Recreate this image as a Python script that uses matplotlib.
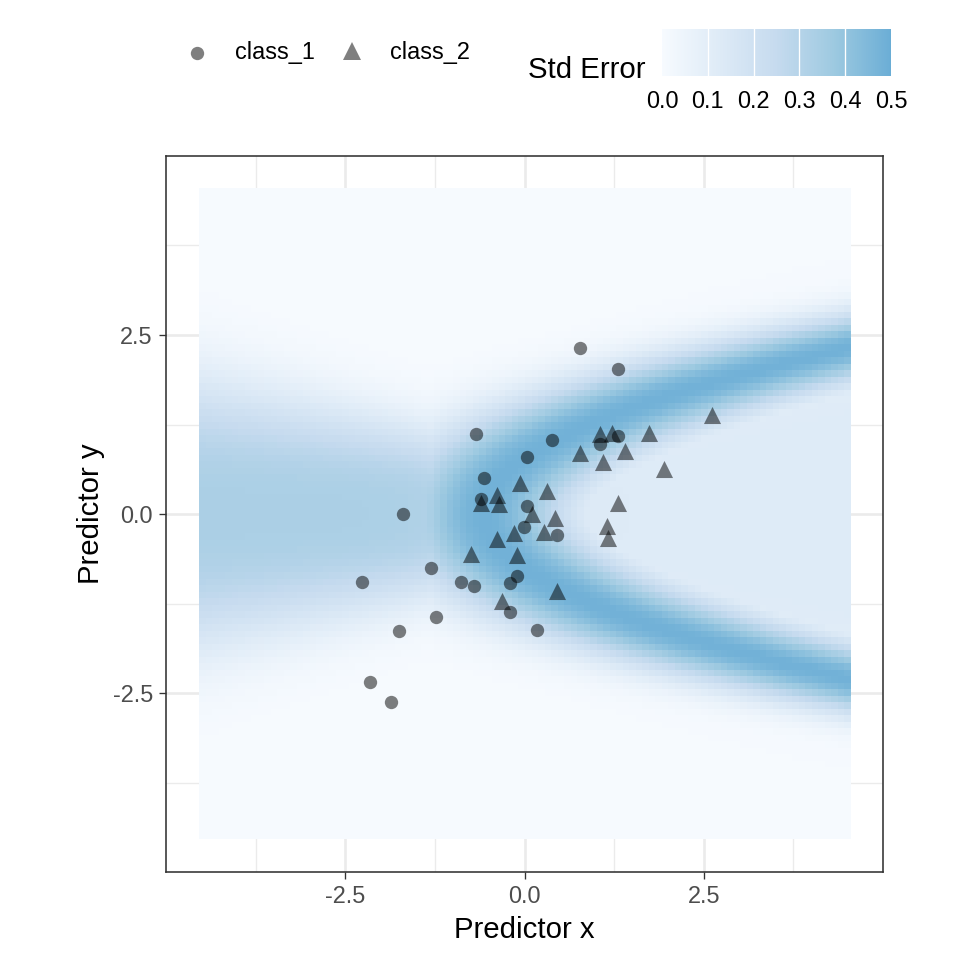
import numpy as np
import matplotlib
matplotlib.use("Agg")
import matplotlib.pyplot as plt
from matplotlib.colors import LinearSegmentedColormap

plt.rcParams['font.family'] = ['Liberation Sans', 'DejaVu Sans']

# points
class1_x = [0.77, 1.30, -0.68, 0.38, 0.03, -0.56, -0.61, -1.69, 0.03, -0.01, 0.45, -1.31,
            -0.11, -0.88, -0.71, -0.20, -2.26, -1.24, -0.20, 0.18, -1.75, -2.16, -1.86, 1.05, 1.31]
class1_y = [2.32, 2.03, 1.12, 1.03, 0.80, 0.50, 0.21, 0.00, 0.11, -0.18, -0.29, -0.75,
            -0.87, -0.95, -1.01, -0.96, -0.95, -1.44, -1.37, -1.62, -1.63, -2.35, -2.63, 0.98, 1.09]
class2_x = [1.05, 1.22, 0.77, 1.09, 1.40, -0.06, 0.32, -0.39, -0.60, -0.36, 0.11, 0.42, 1.30,
            -0.15, 0.27, -0.39, 1.15, 1.17, -0.74, -0.11, 0.45, -0.32, 2.61, 1.73, 1.94]
class2_y = [1.12, 1.13, 0.85, 0.73, 0.88, 0.43, 0.32, 0.27, 0.15, 0.14, 0.00, -0.06, 0.15,
            -0.27, -0.25, -0.35, -0.17, -0.34, -0.56, -0.57, -1.08, -1.21, 1.38, 1.13, 0.63]

# std error surface on a 100 x 100 grid (approximation of the model output)
grid_x = np.linspace(-4.5, 4.5, 100)
grid_y = np.linspace(-4.5, 4.5, 100)
bnd_b0, bnd_b1 = 0.6, 1.05          # class boundary: y^2 = b0 + b1*x
band_peak, band_w = 0.48, 1.27
inner_level = 0.12
left_peak = 0.33

X, Y = np.meshgrid(grid_x, grid_y)
g = bnd_b0 + bnd_b1 * X - Y ** 2
grad = np.sqrt(bnd_b1 ** 2 + 4 * Y ** 2)
d = g / grad ** 0.4
branch = band_peak * np.exp(-(d / band_w) ** 2)
inner = inner_level / (1 + np.exp(-g / grad / 0.3))
step = 1 / (1 + np.exp((X + 0.5) / 0.35))
wl = 0.9 + 0.22 * np.abs(X)
left = left_peak * step * np.exp(-np.abs(Y / wl) ** 3)
se = np.clip(np.maximum(branch, inner + left) + 0.004, 0, 0.5)

blues = plt.get_cmap('Blues')
cmap = LinearSegmentedColormap.from_list('blues_half', blues(np.linspace(0, 0.5, 256)))

fig = plt.figure(figsize=(5, 5), dpi=192)
W = 960.0


def fig_rect(x0, y0, x1, y1):
    return [x0 / W, 1 - y1 / W, (x1 - x0) / W, (y1 - y0) / W]


ax = fig.add_axes(fig_rect(166, 156, 883, 872))
step_x = grid_x[1] - grid_x[0]
ax.imshow(se, cmap=cmap, vmin=0, vmax=0.5, origin='lower', interpolation='nearest',
          extent=[grid_x[0] - step_x / 2, grid_x[-1] + step_x / 2,
                  grid_y[0] - step_x / 2, grid_y[-1] + step_x / 2],
          aspect='auto', zorder=1)
ax.scatter(class1_x, class1_y, marker='o', s=5.0 ** 2, color='black', alpha=0.5,
           linewidths=0, zorder=3)
ax.scatter(class2_x, class2_y, marker='^', s=6.4 ** 2, color='black', alpha=0.5,
           linewidths=0, zorder=3)

ax.set_xlim(-5.0, 5.0)
ax.set_ylim(-5.0, 5.0)
ax.set_xticks([-2.5, 0, 2.5])
ax.set_yticks([-2.5, 0, 2.5])
ax.set_xticklabels(['-2.5', '0.0', '2.5'])
ax.set_yticklabels(['-2.5', '0.0', '2.5'])
ax.set_xticks([-3.75, -1.25, 1.25, 3.75], minor=True)
ax.set_yticks([-3.75, -1.25, 1.25, 3.75], minor=True)
ax.grid(which='major', color='#EBEBEB', linewidth=1.0, zorder=0)
ax.grid(which='minor', color='#EBEBEB', linewidth=0.5, zorder=0)
ax.set_axisbelow(True)
ax.tick_params(which='major', length=2.75, width=0.5, color='#333333', pad=2.2,
               labelsize=8.8, labelcolor='#4D4D4D')
ax.tick_params(which='minor', length=0)
for sp in ax.spines.values():
    sp.set_color('#333333')
    sp.set_linewidth(0.6)
ax.set_xlabel('Predictor x', fontsize=11, labelpad=2.75)
ax.set_ylabel('Predictor y', fontsize=11, labelpad=2.75)

# legends at the top
leg = fig.add_axes([0, 0, 1, 1], facecolor='none')
leg.set_xlim(0, W)
leg.set_ylim(W, 0)
leg.axis('off')
leg.plot([197], [53], 'o', ms=5.0, color='black', alpha=0.5, mew=0)
leg.plot([352], [51], '^', ms=6.4, color='black', alpha=0.5, mew=0)
leg.text(235, 53, 'class_1', fontsize=8.8, va='center', ha='left')
leg.text(390, 53, 'class_2', fontsize=8.8, va='center', ha='left')
leg.text(645, 70, 'Std Error', fontsize=11, va='center', ha='right')

cb = fig.add_axes(fig_rect(662, 29, 891, 76))
cb.imshow(np.linspace(0, 0.5, 256)[None, :], cmap=cmap, vmin=0, vmax=0.5, aspect='auto',
          extent=[0, 0.5, 0, 1])
for v in [0.1, 0.2, 0.3, 0.4]:
    cb.axvline(v, color='white', linewidth=0.5)
cb.set_xlim(0, 0.5)
cb.axis('off')
for v in [0.0, 0.1, 0.2, 0.3, 0.4, 0.5]:
    leg.text(662 + v / 0.5 * 229, 101, '%.1f' % v, fontsize=8.8, ha='center', va='center')

fig.savefig('out.png', dpi=192)
